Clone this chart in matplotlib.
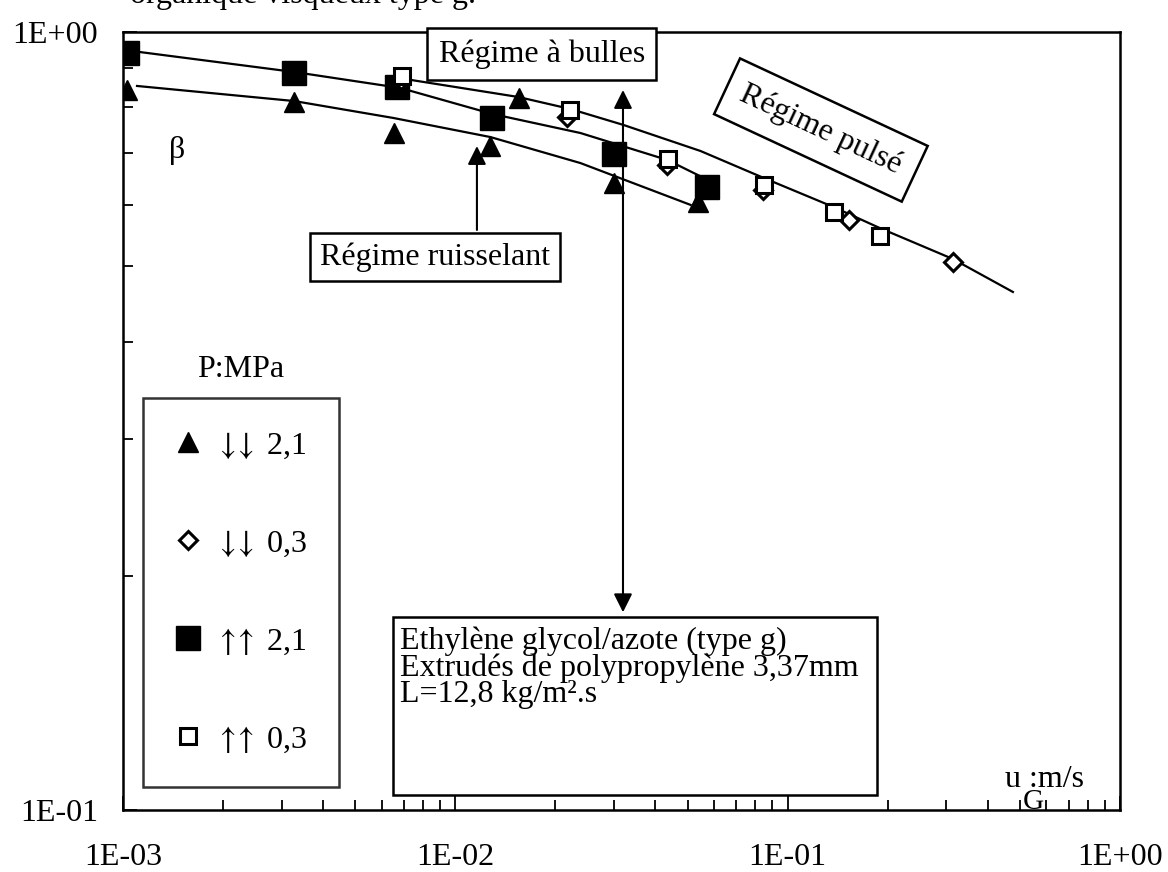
import matplotlib.pyplot as plt
import numpy as np
from matplotlib.ticker import FixedLocator, FuncFormatter, NullFormatter
from matplotlib.patches import Rectangle

plt.rcParams["font.family"] = ["Liberation Serif", "DejaVu Serif"]
plt.rcParams["font.size"] = 23
plt.rcParams["mathtext.fontset"] = "stix"

# points (u_G in m/s, beta)
tri21_x = [0.00103, 0.00327, 0.00655, 0.01275, 0.0301, 0.0539, 0.0155]
tri21_y = [0.842, 0.813, 0.742, 0.714, 0.640, 0.605, 0.823]
dia03_x = [0.00688, 0.0217, 0.0432, 0.0841, 0.1527, 0.3141]
dia03_y = [0.8675, 0.7776, 0.6745, 0.6267, 0.5732, 0.5064]
sq21_x = [0.00103, 0.00327, 0.00669, 0.0129, 0.0301, 0.0570]
sq21_y = [0.940, 0.886, 0.850, 0.775, 0.697, 0.632]
sq03_x = [0.00693, 0.0221, 0.0435, 0.0851, 0.1376, 0.1893]
sq03_y = [0.8778, 0.7938, 0.6866, 0.6361, 0.5872, 0.5467]

# hand drawn trend curves, read as knots
curve_sq_x = [0.001064, 0.003274, 0.006829, 0.012923, 0.02379, 0.0435, 0.05585]
curve_sq_y = [0.9453, 0.8884, 0.8474, 0.7846, 0.7416, 0.6846, 0.6494]
curve_tri_x = [0.001102, 0.003274, 0.006505, 0.012747, 0.02379, 0.05102]
curve_tri_y = [0.8524, 0.8152, 0.7754, 0.7328, 0.6785, 0.5995]
curve_03_x = [0.00707, 0.01548, 0.0222, 0.03206, 0.0547, 0.0846, 0.1376, 0.1893, 0.3141, 0.4762]
curve_03_y = [0.8700, 0.8250, 0.7962, 0.7595, 0.7031, 0.6494, 0.5956, 0.5598, 0.5108, 0.4633]

legend_labels = [r"$\downarrow\!\!\downarrow$ 2,1", r"$\downarrow\!\!\downarrow$ 0,3",
                 r"$\uparrow\!\!\uparrow$ 2,1", r"$\uparrow\!\!\uparrow$ 0,3"]

fig = plt.figure(figsize=(11.68, 8.72), dpi=100)
ax = fig.add_axes([0.1053, 0.0711, 0.8536, 0.8922])
ax.set_xscale("log")
ax.set_yscale("log")
ax.set_xlim(1e-3, 1)
ax.set_ylim(0.1, 1)

lw = 1.6
ax.plot(curve_sq_x, curve_sq_y, color="black", lw=lw, zorder=2)
ax.plot(curve_tri_x, curve_tri_y, color="black", lw=lw, zorder=2)
ax.plot(curve_03_x, curve_03_y, color="black", lw=lw, zorder=2)

h1, = ax.plot(tri21_x, tri21_y, ls="none", marker="^", ms=15, color="black", zorder=3)
h2, = ax.plot(dia03_x, dia03_y, ls="none", marker="D", ms=9, mfc="white", mec="black", mew=2.2, zorder=4)
h3, = ax.plot(sq21_x, sq21_y, ls="none", marker="s", ms=17, color="black", zorder=3)
h4, = ax.plot(sq03_x, sq03_y, ls="none", marker="s", ms=11, mfc="white", mec="black", mew=2.2, zorder=4)

# axes look
for s in ax.spines.values():
    s.set_linewidth(1.8)
ax.tick_params(which="both", direction="in", top=False, right=False, width=1.3)
ax.tick_params(which="major", length=10)
ax.tick_params(which="minor", length=7)
ax.tick_params(axis="y", which="major", pad=18)
ax.tick_params(axis="x", which="major", pad=24)
ax.xaxis.set_major_locator(FixedLocator([1e-3, 1e-2, 1e-1, 1]))
ax.yaxis.set_major_locator(FixedLocator([0.1, 1]))
fmt = FuncFormatter(lambda v, p: "1E%+03d" % int(round(np.log10(v))))
ax.xaxis.set_major_formatter(fmt)
ax.yaxis.set_major_formatter(fmt)
ax.xaxis.set_minor_formatter(NullFormatter())
ax.yaxis.set_minor_formatter(NullFormatter())

# legend
leg = ax.legend([h1, h2, h3, h4], legend_labels, loc="lower left",
                bbox_to_anchor=(0.02, 0.03), frameon=True, fancybox=False,
                labelspacing=2.12, borderpad=1.0, handletextpad=0.45,
                handlelength=0.8, borderaxespad=0, fontsize=23)
leg.get_frame().set_edgecolor("black")
leg.get_frame().set_linewidth(1.8)
ax.text(0.118, 0.566, "P:MPa", transform=ax.transAxes, ha="center", va="center")

bx = dict(boxstyle="square,pad=0.35", fc="white", ec="black", lw=1.8)
ax.text(0.420, 0.972, "Régime à bulles", transform=ax.transAxes, ha="center",
        va="center", bbox=bx, zorder=6, clip_on=False)
ax.text(0.313, 0.711, "Régime ruisselant", transform=ax.transAxes, ha="center",
        va="center", bbox=dict(boxstyle="square,pad=0.3", fc="white", ec="black", lw=1.8), zorder=6)
ax.text(0.700, 0.874, "Régime pulsé", transform=ax.transAxes, ha="center",
        va="center", rotation=-25, rotation_mode="anchor",
        bbox=dict(boxstyle="square,pad=0.5", fc="white", ec="black", lw=1.8), zorder=6)

arr = dict(arrowstyle="-|>", color="black", lw=1.5, mutation_scale=28)
ax.annotate("", xy=(0.355, 0.857), xytext=(0.355, 0.742),
            xycoords="axes fraction", arrowprops=arr)
ax.annotate("", xy=(0.5015, 0.929), xytext=(0.5015, 0.2506),
            xycoords="axes fraction",
            arrowprops=dict(arrowstyle="<|-|>", color="black", lw=1.5, mutation_scale=28))

ax.add_patch(Rectangle((0.2708, 0.0193), 0.4855, 0.2288, transform=ax.transAxes,
                       fc="white", ec="black", lw=1.8, zorder=5))
ax.text(0.278, 0.236,
        "Ethylène glycol/azote (type g)\nExtrudés de polypropylène 3,37mm\nL=12,8 kg/m².s",
        transform=ax.transAxes, ha="left", va="top", linespacing=0.88, zorder=6)

ax.text(0.0542, 0.848, "β", transform=ax.transAxes, ha="center", va="center")
ax.text(0.885, 0.0386, "u :m/s", transform=ax.transAxes, ha="left", va="center")
ax.text(0.902, 0.010, "G", transform=ax.transAxes, ha="left", va="center", fontsize=21)

fig.text(0.111, 0.996, "organique visqueux type g.", ha="left", va="baseline")

fig.savefig("out.png", dpi=100)
